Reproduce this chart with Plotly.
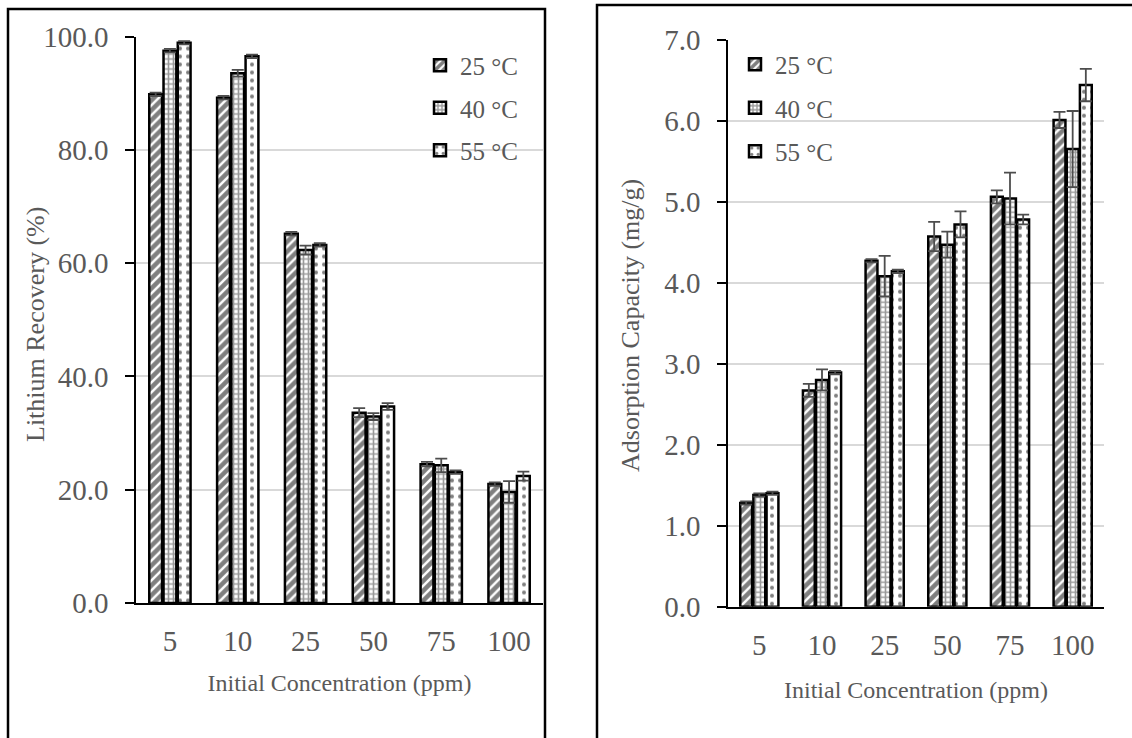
import plotly.graph_objects as go

# Initial lithium concentration (ppm)
concentrations = ["5", "10", "25", "50", "75", "100"]
temperatures = ["25 °C", "40 °C", "55 °C"]

# Lithium recovery (%) per temperature, with standard deviations
recovery = {
    "25 °C": [89.8, 89.2, 65.2, 33.6, 24.5, 21.0],
    "40 °C": [97.5, 93.5, 62.3, 32.9, 24.3, 19.6],
    "55 °C": [98.9, 96.5, 63.2, 34.7, 23.1, 22.4],
}
recovery_err = {
    "25 °C": [0.3, 0.3, 0.3, 0.8, 0.4, 0.3],
    "40 °C": [0.3, 0.6, 0.8, 0.6, 1.2, 1.9],
    "55 °C": [0.3, 0.3, 0.3, 0.6, 0.3, 0.8],
}

# Adsorption capacity (mg/g) per temperature, with standard deviations
capacity = {
    "25 °C": [1.28, 2.67, 4.27, 4.57, 5.06, 6.01],
    "40 °C": [1.38, 2.80, 4.08, 4.47, 5.04, 5.65],
    "55 °C": [1.40, 2.89, 4.14, 4.72, 4.78, 6.44],
}
capacity_err = {
    "25 °C": [0.02, 0.08, 0.02, 0.18, 0.08, 0.10],
    "40 °C": [0.02, 0.13, 0.25, 0.16, 0.32, 0.47],
    "55 °C": [0.02, 0.02, 0.02, 0.16, 0.06, 0.20],
}

recovery_ticks = [0, 20, 40, 60, 80, 100]
capacity_ticks = [0, 1, 2, 3, 4, 5, 6, 7]

x_title = "Initial Concentration (ppm)"
recovery_title = "Lithium Recovery (%)"
capacity_title = "Adsorption Capacity (mg/g)"

patterns = {
    "25 °C": dict(shape="/", fgcolor="#000000", bgcolor="#ffffff", size=7, solidity=0.65),
    "40 °C": dict(shape="+", fgcolor="#333333", bgcolor="#ffffff", size=5, solidity=0.55),
    "55 °C": dict(shape=".", fgcolor="#000000", bgcolor="#ffffff", size=8, solidity=0.2),
}

FONT = "Liberation Serif, Times New Roman, serif"
GREY = "#595959"

fig = go.Figure()

for t in temperatures:
    fig.add_trace(go.Bar(
        x=concentrations, y=recovery[t], name=t,
        error_y=dict(type="data", array=recovery_err[t], color="#4d4d4d", thickness=1.8, width=6),
        marker=dict(color="white", pattern=patterns[t], line=dict(color="black", width=2.5)),
        xaxis="x", yaxis="y", legend="legend", legendgroup="L" + t,
    ))

for t in temperatures:
    fig.add_trace(go.Bar(
        x=concentrations, y=capacity[t], name=t,
        error_y=dict(type="data", array=capacity_err[t], color="#4d4d4d", thickness=1.8, width=6),
        marker=dict(color="white", pattern=patterns[t], line=dict(color="black", width=2.5)),
        xaxis="x2", yaxis="y2", legend="legend2", legendgroup="R" + t,
    ))

W, H = 1132, 738


def px_x(v):
    return v / W


def px_y(v):
    return 1 - v / H


tick_font = dict(family=FONT, size=29, color=GREY)
xtitle_font = dict(family=FONT, size=24, color=GREY)
ytitle_font = dict(family=FONT, size=26, color=GREY)
legend_font = dict(family=FONT, size=25, color=GREY)

common_x = dict(
    type="category", showgrid=False, showline=True, linecolor="black", linewidth=1.5,
    ticks="", tickfont=tick_font, title_font=xtitle_font, automargin=False,
    title_text=x_title, zeroline=False,
)

common_y = dict(
    tickformat=".1f", tickfont=tick_font,
    showgrid=True, gridcolor="#d9d9d9", gridwidth=1.5,
    showline=True, linecolor="black", linewidth=1.5,
    ticks="outside", ticklen=9, tickwidth=1.5, tickcolor="black",
    ticklabelstandoff=11, zeroline=False, automargin=False,
)

inner_ticks = dict(
    showticklabels=False, showgrid=False, zeroline=False, showline=False,
    ticks="inside", ticklen=9, tickwidth=1.5, tickcolor="black", automargin=False,
)

left_y_domain = [px_y(603), px_y(36.5)]
right_y_domain = [px_y(606.7), px_y(39.7)]

fig.update_layout(
    width=W, height=H, autosize=False,
    margin=dict(l=0, r=0, t=0, b=0, pad=0, autoexpand=False),
    paper_bgcolor="white", plot_bgcolor="white",
    barmode="group", bargap=0.37, bargroupgap=0.1,
    font=dict(family=FONT, color=GREY),
    xaxis=dict(common_x, domain=[px_x(136), px_x(543)], anchor="y",
               ticklabelstandoff=11, title_standoff=19),
    yaxis=dict(common_y, domain=left_y_domain, range=[0, 100], anchor="x",
               tickvals=recovery_ticks),
    yaxis3=dict(inner_ticks, domain=left_y_domain, range=[0, 100], anchor="x",
                overlaying="y", tickvals=recovery_ticks),
    xaxis2=dict(common_x, domain=[px_x(728), px_x(1104)], anchor="y2",
                ticklabelstandoff=12, title_standoff=21),
    yaxis2=dict(common_y, domain=right_y_domain, range=[0, 7], anchor="x2",
                tickvals=capacity_ticks),
    yaxis4=dict(inner_ticks, domain=right_y_domain, range=[0, 7], anchor="x2",
                overlaying="y2", tickvals=capacity_ticks),
    legend=dict(
        x=px_x(420), y=px_y(42.5), xanchor="left", yanchor="top",
        bgcolor="rgba(0,0,0,0)", font=legend_font, tracegroupgap=7, itemwidth=30,
    ),
    legend2=dict(
        x=px_x(735), y=px_y(41.5), xanchor="left", yanchor="top",
        bgcolor="rgba(0,0,0,0)", font=legend_font, tracegroupgap=8, itemwidth=30,
    ),
    annotations=[
        dict(text=recovery_title, textangle=-90, xref="paper", yref="paper",
             x=px_x(35), y=px_y(325), xanchor="center", yanchor="middle",
             showarrow=False, font=ytitle_font),
        dict(text=capacity_title, textangle=-90, xref="paper", yref="paper",
             x=px_x(630), y=px_y(326), xanchor="center", yanchor="middle",
             showarrow=False, font=ytitle_font),
    ],
    shapes=[
        dict(type="rect", xref="paper", yref="paper",
             x0=px_x(8), x1=px_x(545), y0=-0.05, y1=px_y(9),
             line=dict(color="black", width=2.5), fillcolor="rgba(0,0,0,0)", layer="above"),
        dict(type="rect", xref="paper", yref="paper",
             x0=px_x(597), x1=1.05, y0=-0.05, y1=px_y(5),
             line=dict(color="black", width=2.5), fillcolor="rgba(0,0,0,0)", layer="above"),
    ],
)

fig.write_html("out.html")
